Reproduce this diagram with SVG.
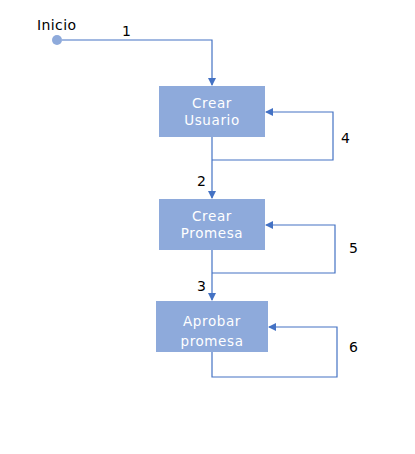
<svg xmlns="http://www.w3.org/2000/svg" width="415" height="454" viewBox="0 0 415 454">
<style>
.box{fill:#8eaadb}
.bt{fill:#fff;font-family:"DejaVu Sans",Verdana,sans-serif;font-size:13.5px;letter-spacing:0.6px;text-anchor:middle}
.lb{fill:#000;font-family:"DejaVu Sans",Verdana,sans-serif;font-size:14px;letter-spacing:0.4px}
.ln{fill:none;stroke:#4472c4;stroke-width:1.2}
</style>
<defs>
<marker id="ah" markerWidth="8" markerHeight="8" refX="7" refY="4" orient="auto" markerUnits="userSpaceOnUse">
<path d="M0,0 L8,4 L0,8 Z" fill="#4472c4"/>
</marker>
</defs>
<rect width="415" height="454" fill="#fff"/>
<g id="inicio">
<circle cx="57" cy="40" r="5" fill="#8eaadb"/>
<text class="lb" x="37" y="30">Inicio</text>
</g>
<g id="n1">
<rect class="box" x="159" y="86" width="106" height="51"/>
<text class="bt" x="212" y="108">Crear</text>
<text class="bt" x="212" y="125">Usuario</text>
</g>
<g id="n2">
<rect class="box" x="159" y="199" width="106" height="51"/>
<text class="bt" x="212" y="221">Crear</text>
<text class="bt" x="212" y="238">Promesa</text>
</g>
<g id="n3">
<rect class="box" x="156" y="301" width="112" height="51"/>
<text class="bt" x="212" y="326">Aprobar</text>
<text class="bt" x="212" y="346">promesa</text>
</g>
<g id="connectors">
<path class="ln" d="M62,40 H212 V85" marker-end="url(#ah)"/>
<path class="ln" d="M212,137 V198" marker-end="url(#ah)"/>
<path class="ln" d="M212,160 H333 V112 H266" marker-end="url(#ah)"/>
<path class="ln" d="M212,250 V300" marker-end="url(#ah)"/>
<path class="ln" d="M212,273 H335 V225 H266" marker-end="url(#ah)"/>
<path class="ln" d="M212,352 V377 H337 V327 H269" marker-end="url(#ah)"/>
<text class="lb" x="122" y="36">1</text>
<text class="lb" x="197" y="186">2</text>
<text class="lb" x="197" y="291">3</text>
<text class="lb" x="341" y="143">4</text>
<text class="lb" x="349" y="253">5</text>
<text class="lb" x="349" y="352">6</text>
</g>
</svg>
